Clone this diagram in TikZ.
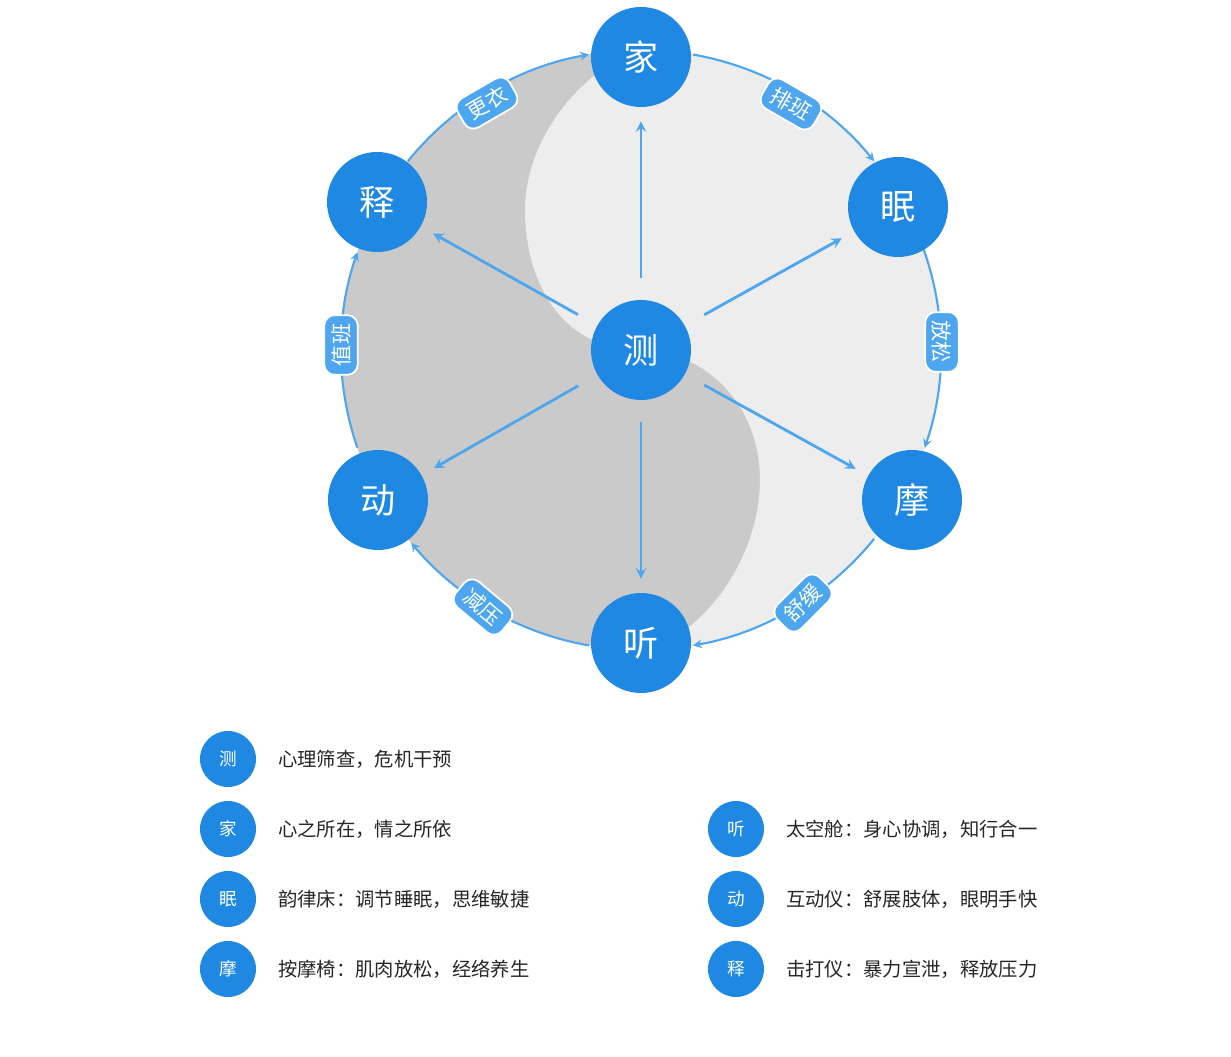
\documentclass[tikz,border=0pt]{standalone}
\usepackage{fontspec}
\setmainfont{Noto Sans CJK SC}
\definecolor{nodeblue}{HTML}{1E88E2}
\definecolor{arcblue}{HTML}{4DA6EE}
\definecolor{darkgrey}{HTML}{CACACA}
\definecolor{lightgrey}{HTML}{EDEDED}
\newlength{\pxu}
\setlength{\pxu}{0.02cm}
\tikzset{
  bignode/.style={circle, fill=nodeblue, text=white, minimum size=100\pxu, inner sep=0pt, font=\fontsize{20}{20}\selectfont},
  smallnode/.style={circle, fill=nodeblue, text=white, minimum size=56\pxu, inner sep=0pt, font=\fontsize{10}{10}\selectfont},
  tagbox/.style={rounded corners=6pt, fill=arcblue, text=white, draw=white, line width=1pt, inner xsep=5pt, inner ysep=4pt, font=\fontsize{12}{12}\selectfont},
  ring/.style={arcblue, line width=1.2pt, -stealth},
  spoke/.style={arcblue, line width=1.6pt, -stealth},
  legend/.style={anchor=west, font=\fontsize{11}{11}\selectfont, text=black!85}
}
\begin{document}
\begin{tikzpicture}[x=0.02cm, y=-0.02cm]
    \useasboundingbox (0, 0) rectangle (1231, 1057);
    % background shading
    \fill[darkgrey] (641, 350) circle[radius=300];
    \fill[lightgrey] (641, 50) arc[start angle=-90, end angle=90, radius=300]
        .. controls (700, 640) and (760, 560) .. (760, 480)
        .. controls (760, 400) and (700, 350) .. (641, 350)
        .. controls (560, 350) and (525, 280) .. (525, 210)
        .. controls (525, 140) and (580, 70) .. (641, 50);

    % ring arcs
    \coordinate (c) at (641, 350);
    \draw[ring] ([shift={(-141:300)}]c) arc[start angle=-141, end angle=-100, radius=300];
    \draw[ring] ([shift={(-80:300)}]c) arc[start angle=-80, end angle=-39, radius=300];
    \draw[ring] ([shift={(-20:300)}]c) arc[start angle=-20, end angle=19, radius=300];
    \draw[ring] ([shift={(39:300)}]c) arc[start angle=39, end angle=80, radius=300];
    \draw[ring] ([shift={(100:300)}]c) arc[start angle=100, end angle=140, radius=300];
    \draw[ring] ([shift={(161:300)}]c) arc[start angle=161, end angle=199, radius=300];

    % nodes
    \node[bignode] (ce) at (641, 350) {测};
    \node[bignode] (jia) at (641, 57) {家};
    \node[bignode] (mian) at (898, 207) {眠};
    \node[bignode] (mo) at (912, 500) {摩};
    \node[bignode] (ting) at (641, 643) {听};
    \node[bignode] (dong) at (378, 500) {动};
    \node[bignode] (shi) at (377, 202) {释};

    % spokes
    \foreach \n in {jia, mian, mo, ting, dong, shi}
    {\draw[spoke, shorten <=22\pxu, shorten >=14\pxu] (ce) -- (\n);}

    % arc tags
    \node[tagbox, rotate=30] (gengyi) at (487, 103) {更衣};
    \node[tagbox, rotate=-30] (paiban) at (791, 104) {排班};
    \node[tagbox, rotate=-90] (fangsong) at (942, 342) {放松};
    \node[tagbox, rotate=45] (shuhuan) at (803, 603) {舒缓};
    \node[tagbox, rotate=-40] (jianya) at (483, 607) {减压};
    \node[tagbox, rotate=90] (zhiban) at (341, 345) {值班};

    % legend
    \node[smallnode] (l1) at (228, 759) {测};
    \node[legend] at (272, 759) {心理筛查，危机干预};
    \node[smallnode] (l2) at (228, 829) {家};
    \node[legend] at (272, 829) {心之所在，情之所依};
    \node[smallnode] (l3) at (228, 899) {眠};
    \node[legend] at (272, 899) {韵律床：调节睡眠，思维敏捷};
    \node[smallnode] (l4) at (228, 969) {摩};
    \node[legend] at (272, 969) {按摩椅：肌肉放松，经络养生};
    \node[smallnode] (l5) at (736, 829) {听};
    \node[legend] at (780, 829) {太空舱：身心协调，知行合一};
    \node[smallnode] (l6) at (736, 899) {动};
    \node[legend] at (780, 899) {互动仪：舒展肢体，眼明手快};
    \node[smallnode] (l7) at (736, 969) {释};
    \node[legend] at (780, 969) {击打仪：暴力宣泄，释放压力};
\end{tikzpicture}
\end{document}
